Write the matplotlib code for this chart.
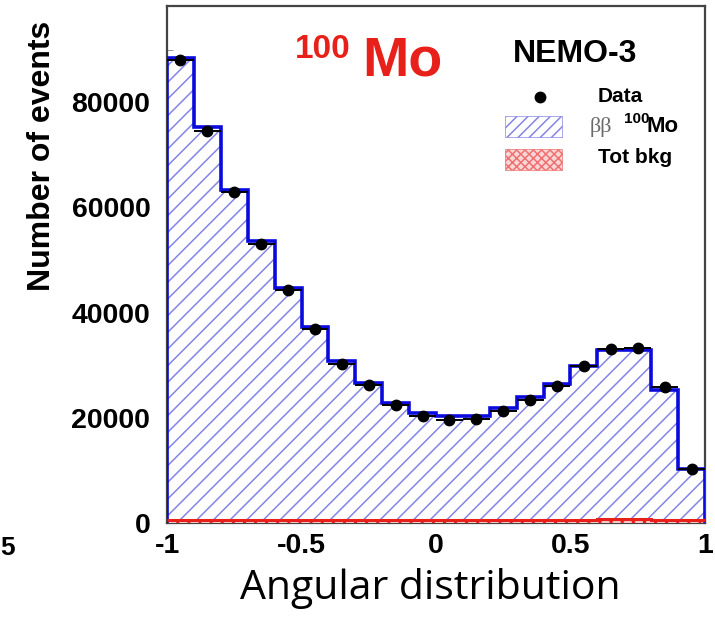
import numpy as np
import matplotlib
matplotlib.use("Agg")
import matplotlib.pyplot as plt
from matplotlib.patches import Rectangle

plt.rcParams.update({"font.family": ["Liberation Sans", "DejaVu Sans"],
                     "hatch.linewidth": 1.1})

# ---- NEMO-3 100Mo angular distribution, 20 bins on [-1, 1] ----
edges = np.linspace(-1, 1, 21)
centers = 0.5 * (edges[:-1] + edges[1:])
data = [88000, 74500, 63000, 53000, 44300, 36800, 30300, 26300, 22500, 20400,
        19600, 19800, 21300, 23400, 26100, 29900, 33100, 33300, 25900, 10300]
mc_2nu = [88500, 75200, 63400, 53600, 44600, 37300, 30800, 26600, 22900, 20900,
          20300, 20300, 21800, 23900, 26400, 29900, 32900, 32900, 25300, 10300]
bkg = [650, 650, 600, 600, 600, 550, 550, 550, 500, 500,
       500, 500, 550, 550, 600, 650, 700, 700, 650, 600]

blue = "#0a0ade"
hatch_blue = "#8585e6"
red = "#e8201a"

fig = plt.figure(figsize=(7.15, 6.17), dpi=100)
ax = fig.add_axes([0.2336, 0.1524, 0.7524, 0.8379])

# signal histogram: hatched fill + step outline
ax.stairs(mc_2nu, edges, fill=True, facecolor="white", edgecolor=hatch_blue,
          hatch="//", linewidth=0, zorder=2)
ax.stairs(mc_2nu, edges, baseline=0, color=blue, linewidth=2.6, zorder=4)

# total background (tiny, cross-hatched red)
ax.stairs(bkg, edges, fill=True, facecolor="#f7c9c9", edgecolor=red,
          hatch="xxx", linewidth=0, zorder=3)
ax.stairs(bkg, edges, baseline=None, color=red, linewidth=2.2, zorder=4)

# data points with bin-width bars
ax.errorbar(centers, data, xerr=0.05, fmt="o", color="black", ms=7.5,
            elinewidth=1.4, capsize=0, zorder=5)

ax.set_xlim(-1, 1)
ax.set_ylim(0, 98300)
ax.set_xticks([-1, -0.5, 0, 0.5, 1])
ax.set_xticklabels(["-1", "-0.5", "0", "0.5", "1"])
ax.set_xticks(np.arange(-1, 1.01, 0.1), minor=True)
ax.set_yticks([0, 20000, 40000, 60000, 80000])
ax.set_yticks(np.arange(0, 98000, 10000), minor=True)
ax.tick_params(which="both", direction="in", color="#888888", labelsize=20.5)
ax.tick_params(which="major", length=7)
ax.tick_params(which="minor", length=4)
ax.tick_params(axis="y", pad=12)
ax.tick_params(axis="x", pad=7)
for lab in ax.get_xticklabels() + ax.get_yticklabels():
    lab.set_fontweight("bold")
for s in ax.spines.values():
    s.set_color("#444444")
    s.set_linewidth(1.6)

ax.set_ylabel("Number of events", fontsize=23, fontweight="bold")
ax.yaxis.set_label_coords(-0.205, 0.71)
ax.set_xlabel("Angular distribution", fontsize=29.5, family=["Open Sans", "DejaVu Sans"],
              va="baseline")
ax.xaxis.set_label_coords(0.49, -0.147)

# headline labels
ax.text(0.238, 0.8994, "100", transform=ax.transAxes, color=red, fontsize=24,
        fontweight="bold", ha="left", va="baseline")
ax.text(0.3625, 0.8665, "Mo", transform=ax.transAxes, color=red, fontsize=40,
        fontweight="bold", ha="left", va="baseline")
ax.text(0.643, 0.892, "NEMO-3", transform=ax.transAxes, color="black", fontsize=23,
        fontweight="bold", ha="left", va="baseline")

# legend drawn by hand
ax.plot([0.693], [0.824], "o", color="black", ms=7.5, transform=ax.transAxes)
ax.text(0.801, 0.824, "Data", transform=ax.transAxes, fontsize=15,
        fontweight="bold", va="center")
ax.add_patch(Rectangle((0.628, 0.747), 0.106, 0.040, transform=ax.transAxes,
                       facecolor="white", edgecolor=hatch_blue, hatch="///",
                       linewidth=0.5, zorder=6))
ax.text(0.786, 0.766, "ββ", transform=ax.transAxes, fontsize=16, color="#6a6a6a",
        family=["Liberation Serif", "DejaVu Serif"], va="center")
ax.text(0.849, 0.782, "100", transform=ax.transAxes, fontsize=11,
        fontweight="bold", va="center")
ax.text(0.892, 0.766, "Mo", transform=ax.transAxes, fontsize=16,
        fontweight="bold", va="center")
ax.add_patch(Rectangle((0.628, 0.683), 0.106, 0.040, transform=ax.transAxes,
                       facecolor="#f9d6d6", edgecolor="#ef7070", hatch="xxxx",
                       linewidth=0.5, zorder=6))
ax.text(0.801, 0.706, "Tot bkg", transform=ax.transAxes, fontsize=15,
        fontweight="bold", va="center")

# tick label left over from the neighbouring panel
fig.text(0.001, 1 - 548 / 617, "5", fontsize=19, fontweight="bold",
         ha="left", va="center")

fig.savefig("out.png", dpi=100)
